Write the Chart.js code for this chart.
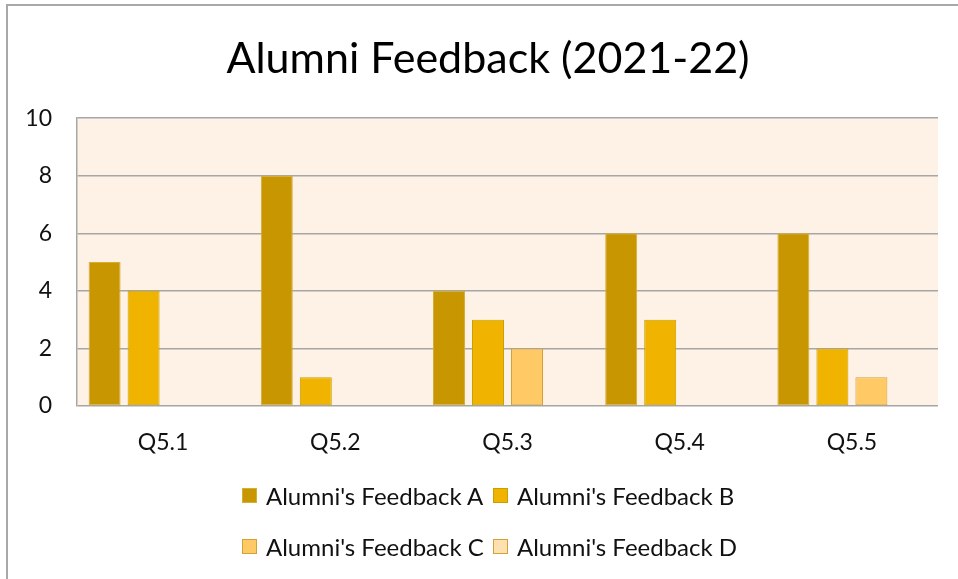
<!DOCTYPE html>
<html>
<head>
<meta charset="utf-8">
<title>Alumni Feedback (2021-22)</title>
<script src="https://cdn.jsdelivr.net/npm/chart.js@4.4.1/dist/chart.umd.min.js"></script>
<style>
	body { margin: 0; background: #fff; font-family: Lato, "Noto Sans", sans-serif; }
	#wrap { position: relative; width: 958px; height: 579px; overflow: hidden; }
	#frame { position: absolute; left: 6px; top: 4px; width: 1000px; height: 700px; border-left: 2px solid #a8a8a8; border-top: 2px solid #a8a8a8; }
	#feedbackChart { position: absolute; left: 0; top: 0; }
	#legend { position: absolute; left: 242px; top: 481px; display: grid; grid-template-columns: 251px 251px; row-gap: 23px; }
	.item { display: flex; align-items: center; font-size: 24px; color: #111; height: 28px; white-space: nowrap; }
	.box { width: 13px; height: 13px; margin-right: 9px; border: 1px solid #c9a000; }
</style>
</head>
<body>
<div id="wrap">
	<div id="frame"></div>
	<canvas id="feedbackChart" width="958" height="579"></canvas>
	<div id="legend"></div>
</div>
<script>
// chart data
const questions = ["Q5.1", "Q5.2", "Q5.3", "Q5.4", "Q5.5"];
const feedbackA = [5, 8, 4, 6, 6];
const feedbackB = [4, 1, 3, 3, 2];
const feedbackC = [0, 0, 2, 0, 1];
const feedbackD = [0, 0, 0, 0, 0];
const yTicks = [0, 2, 4, 6, 8, 10];

const seriesNames = ["Alumni's Feedback A", "Alumni's Feedback B", "Alumni's Feedback C", "Alumni's Feedback D"];
const seriesColors = ["#c89600", "#f0b400", "#ffc966", "#ffe0b0"];
const seriesBorders = ["#d8ad35", "#c9a000", "#d2a237", "#d2a237"];

const legendDiv = document.getElementById("legend");

//fills the plot area with the peach background
const plotBackground = {
	id: "plotBackground",
	beforeDraw(chart) {
		const a = chart.chartArea;
		const ctx = chart.ctx;
		ctx.save();
		ctx.fillStyle = "#fef2e7";
		ctx.fillRect(a.left, a.top, a.right - a.left, a.bottom - a.top);
		ctx.restore();
	}
};

//builds the two row legend under the chart from the datasets
const htmlLegend = {
	id: "htmlLegend",
	afterUpdate(chart) {
		legendDiv.innerHTML = "";
		chart.data.datasets.forEach(function(ds) {
			legendDiv.innerHTML += `
			<div class="item"><span class="box" style="background:${ds.backgroundColor};border-color:${ds.borderColor}"></span>${ds.label}</div>
			`;
		});
	}
};

let seriesData = [feedbackA, feedbackB, feedbackC, feedbackD];
let datasets = seriesData.map(function(values, i) {
	return {
		label: seriesNames[i],
		data: values,
		backgroundColor: seriesColors[i],
		borderColor: seriesBorders[i],
		borderWidth: function(c) { return c.raw ? 1 : 0; },
		borderSkipped: false,
		categoryPercentage: 0.906,
		barPercentage: 0.82
	};
});

var ctx = document.getElementById("feedbackChart").getContext("2d");
const feedbackChart = new Chart(ctx, {
	type: "bar",
	data: { labels: questions, datasets: datasets },
	options: {
		responsive: false,
		animation: false,
		layout: { padding: { left: 18, right: 0, top: 0, bottom: 123 } },
		plugins: {
			legend: { display: false },
			tooltip: { enabled: false },
			title: {
				display: true,
				text: "Alumni Feedback (2021-22)",
				color: "#000",
				font: { family: "Lato", size: 43, weight: "normal" },
				padding: { top: 33, bottom: 33.5 }
			}
		},
		scales: {
			x: {
				grid: { display: false },
				border: { display: false },
				ticks: { color: "#111", padding: 15, font: { family: "Lato", size: 23 } },
				afterFit: function(s) { s.height = 50; }
			},
			y: {
				min: 0,
				max: 10,
				afterBuildTicks: function(s) { s.ticks = yTicks.map(v => ({ value: v })); },
				grid: { color: "#a6a6a6", lineWidth: 1.5, drawTicks: false },
				border: { display: true, color: "#a6a6a6", width: 1.5 },
				ticks: { color: "#111", padding: 25, font: { family: "Lato", size: 23 } },
				afterFit: function(s) { s.width = 59; }
			},
			//empty axis on the right, only keeps the plot off the right edge
			yRight: {
				position: "right",
				grid: { display: false },
				border: { display: false },
				ticks: { display: false },
				afterFit: function(s) { s.width = 20; }
			}
		}
	},
	plugins: [plotBackground, htmlLegend]
});
</script>
</body>
</html>
